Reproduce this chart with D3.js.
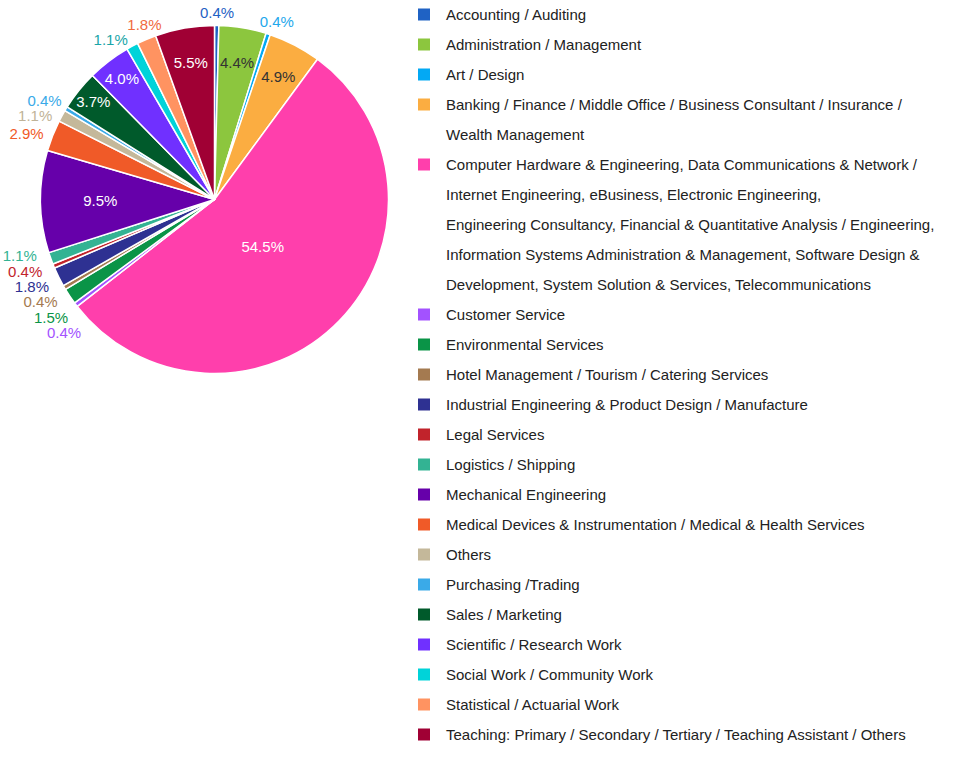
<!DOCTYPE html>
<html>
<head>
<meta charset="utf-8">
<script src="https://cdn.jsdelivr.net/npm/d3@7/dist/d3.min.js"></script>
<style>
  html, body { margin: 0; padding: 0; background: #ffffff; }
  svg { display: block; font-family: "Liberation Sans", Arial, Helvetica, sans-serif; }
</style>
</head>
<body>
<svg id="chart" width="960" height="771"></svg>
<script>
// ---------------- data ----------------
const categories = [
  "Accounting / Auditing",
  "Administration / Management",
  "Art / Design",
  "Banking / Finance / Middle Office / Business Consultant / Insurance /\nWealth Management",
  "Computer Hardware & Engineering, Data Communications & Network /\nInternet Engineering, eBusiness, Electronic Engineering,\nEngineering Consultancy, Financial & Quantitative Analysis / Engineering,\nInformation Systems Administration & Management, Software Design &\nDevelopment, System Solution & Services, Telecommunications",
  "Customer Service",
  "Environmental Services",
  "Hotel Management / Tourism / Catering Services",
  "Industrial Engineering & Product Design / Manufacture",
  "Legal Services",
  "Logistics / Shipping",
  "Mechanical Engineering",
  "Medical Devices & Instrumentation / Medical & Health Services",
  "Others",
  "Purchasing /Trading",
  "Sales / Marketing",
  "Scientific / Research Work",
  "Social Work / Community Work",
  "Statistical / Actuarial Work",
  "Teaching: Primary / Secondary / Tertiary / Teaching Assistant / Others"
];
const percentages = [0.4, 4.4, 0.4, 4.9, 54.5, 0.4, 1.5, 0.4, 1.8, 0.4, 1.1, 9.5, 2.9, 1.1, 0.4, 3.7, 4.0, 1.1, 1.8, 5.5];
const colors = [
  "#1f62c4", "#8cc63e", "#03a9f4", "#fbad41", "#ff3fac",
  "#a352ff", "#0a9447", "#a47a50", "#2e3192", "#c1232b",
  "#33b393", "#6600aa", "#f05a28", "#c4b89a", "#3aaae8",
  "#005a2b", "#7030ff", "#00d3d9", "#ff9361", "#a00034"
];
const labelColors = [
  "#1f62c4", "#8cc63e", "#1fa8ec", "#fbad41", "#ff3fac",
  "#a352ff", "#0a9447", "#a47a50", "#2e3192", "#c1232b",
  "#33b393", "#6600aa", "#f05a28", "#bfb398", "#3aaae8",
  "#005a2b", "#7030ff", "#1aa5a8", "#f06a40", "#a00034"
];

// ---------------- layout ----------------
const svg = d3.select("#chart");
const cx = 214.5, cy = 199.5, r = 174;
const fontSize = 15;

const pie = d3.pie().sort(null).value(d => d);
const arcs = pie(percentages);
const arcGen = d3.arc().innerRadius(0).outerRadius(r);
const colorScale = d3.scaleOrdinal().domain(d3.range(categories.length)).range(colors);

const g = svg.append("g").attr("transform", `translate(${cx},${cy})`);

g.selectAll("path.slice")
  .data(arcs)
  .join("path")
  .attr("class", "slice")
  .attr("d", arcGen)
  .attr("fill", (d, i) => colorScale(i))
  .attr("stroke", "#ffffff")
  .attr("stroke-width", 1.5)
  .attr("stroke-linejoin", "round");

const measurer = svg.append("text").attr("font-size", fontSize).attr("visibility", "hidden");
function textWidth(s) { measurer.text(s); return measurer.node().getComputedTextLength(); }
function fmt(v) { return v.toFixed(1) + "%"; }
function brightness(hex) {
  const c = d3.rgb(hex);
  return (0.299 * c.r + 0.587 * c.g + 0.114 * c.b) / 255;
}

// does a w x h box centred at radius R on angle a fit inside the wedge [a0,a1]?
function fits(a0, a1, R, a, w, h, m) {
  const px = R * Math.sin(a), py = -R * Math.cos(a);
  const corners = [[px - w / 2, py - h / 2], [px + w / 2, py - h / 2], [px - w / 2, py + h / 2], [px + w / 2, py + h / 2]];
  const n1 = [Math.cos(a0), Math.sin(a0)], n2 = [Math.cos(a1), Math.sin(a1)];
  for (const [x, y] of corners) {
    if (x * n1[0] + y * n1[1] < m) return false;
    if (-(x * n2[0] + y * n2[1]) < m) return false;
    if (Math.hypot(x, y) > r) return false;
  }
  return true;
}

const inside = [], outside = [];
arcs.forEach((d, i) => {
  const label = fmt(percentages[i]);
  const w = textWidth(label);
  const a = (d.startAngle + d.endAngle) / 2;
  const span = d.endAngle - d.startAngle;
  const alpha = span / 2;
  const centroidR = 2 * r * Math.sin(alpha) / (3 * alpha);
  if (span >= Math.PI / 2) {
    inside.push({ i, label, a, R: centroidR });
    return;
  }
  let rMin = null;
  for (let R = 0; R <= r; R += 0.5) {
    if (fits(d.startAngle, d.endAngle, R, a, w, 15, 0.5)) { rMin = R; break; }
  }
  if (rMin === null) { outside.push({ i, label, a, w }); return; }
  // narrow slices: keep the text well out towards the rim
  const floorR = span < Math.PI / 6 ? 0.795 * r : centroidR;
  inside.push({ i, label, a, R: Math.max(rMin, floorR, centroidR) });
});

g.selectAll("text.inlabel")
  .data(inside)
  .join("text")
  .attr("class", "inlabel")
  .attr("x", d => d.R * Math.sin(d.a))
  .attr("y", d => -d.R * Math.cos(d.a))
  .attr("dy", "0.35em")
  .attr("text-anchor", "middle")
  .attr("font-size", fontSize)
  .attr("fill", d => brightness(colors[d.i]) > 0.6 ? "#333333" : "#ffffff")
  .text(d => d.label);

// outside labels, relaxed along the circle so they do not overlap
const Rx = 185, Ry = 192, yOff = 5, lh = 15.2;
function box(o) {
  const s = Math.sin(o.a), c = Math.cos(o.a);
  const px = Rx * s, py = -Ry * c + yOff;
  const t = (1 - s) / 2;
  const x0 = px - t * o.w;
  return { x0, x1: x0 + o.w, y0: py - lh / 2, y1: py + lh / 2, yc: py };
}
function overlap(b1, b2) {
  return b1.x0 < b2.x1 && b2.x0 < b1.x1 && b1.y0 < b2.y1 && b2.y0 < b1.y1;
}
outside.sort((p, q) => p.a - q.a);
const step = 0.05 * Math.PI / 180;
for (let it = 0; it < 5000; it++) {
  let moved = false;
  for (let k = 0; k < outside.length - 1; k++) {
    const A = outside[k], B = outside[k + 1];
    if (overlap(box(A), box(B))) { A.a -= step; B.a += step; moved = true; }
  }
  if (!moved) break;
}

g.selectAll("text.outlabel")
  .data(outside)
  .join("text")
  .attr("class", "outlabel")
  .attr("x", d => box(d).x0)
  .attr("y", d => box(d).yc)
  .attr("dy", "0.35em")
  .attr("text-anchor", "start")
  .attr("font-size", fontSize)
  .attr("fill", d => labelColors[d.i])
  .text(d => d.label);

// ---------------- legend ----------------
const legendX = 418, textX = 446, rowH = 30, firstY = 14.5, sq = 12;
let line = 0;
const legendItems = categories.map((c, i) => {
  const lines = c.split("\n");
  const item = { i, lines, y: firstY + line * rowH };
  line += lines.length;
  return item;
});
const items = svg.append("g").selectAll("g.item").data(legendItems).join("g").attr("class", "item");
items.append("rect")
  .attr("x", legendX)
  .attr("y", d => d.y - sq / 2)
  .attr("width", sq)
  .attr("height", sq)
  .attr("fill", d => colorScale(d.i));
items.each(function (d) {
  const t = d3.select(this).append("text")
    .attr("font-size", fontSize)
    .attr("fill", "#222222");
  d.lines.forEach((ln, k) => {
    t.append("tspan")
      .attr("x", textX)
      .attr("y", d.y + k * rowH)
      .attr("dy", "0.35em")
      .text(ln);
  });
});
measurer.remove();
</script>
</body>
</html>
